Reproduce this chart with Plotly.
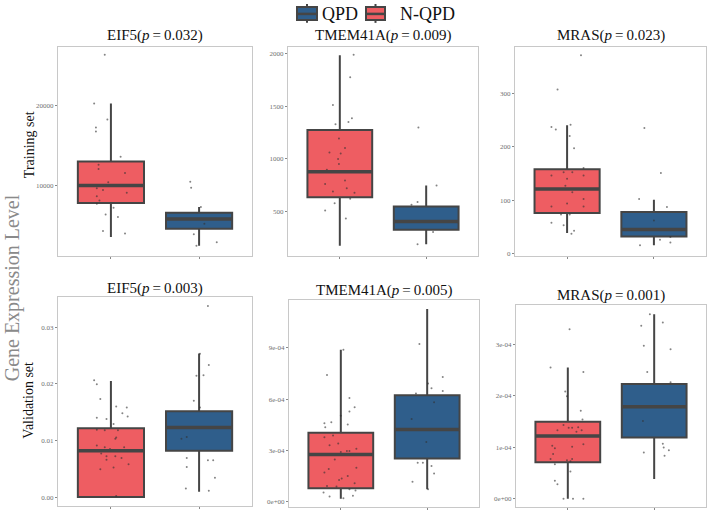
import plotly.graph_objects as go

# ---------------- data ----------------
GROUPS = ["N-QPD", "QPD"]           # x order in each panel
LEGEND_ORDER = ["QPD", "N-QPD"]
GENES = ["EIF5", "TMEM41A", "MRAS"]
P_TRAIN = ["0.032", "0.009", "0.023"]
P_VALID = ["0.003", "0.005", "0.001"]
ROW_LABELS = ["Training set", "Validation set"]
Y_LABEL = "Gene Expression Level"

# box stats: [lower whisker, q1, median, q3, upper whisker]
TRAIN_EIF5_NQPD = [3630, 7830, 10000, 13010, 20210]
TRAIN_EIF5_QPD = [2520, 4650, 5850, 6630, 7330]
TRAIN_TMEM_NQPD = [173, 636, 878, 1275, 1984]
TRAIN_TMEM_QPD = [188, 327, 405, 547, 746]
TRAIN_MRAS_NQPD = [38.5, 76, 121, 158, 240]
TRAIN_MRAS_QPD = [15.5, 32, 45, 78, 101]
VALID_EIF5_NQPD = [0.0, 0.0, 0.00818, 0.01216, 0.0205]
VALID_EIF5_QPD = [0.00093, 0.00818, 0.01228, 0.01514, 0.02532]
VALID_TMEM_NQPD = [1.6e-5, 7.7e-5, 2.75e-4, 4.02e-4, 8.9e-4]
VALID_TMEM_QPD = [7.1e-5, 2.51e-4, 4.22e-4, 6.23e-4, 1.128e-3]
VALID_MRAS_NQPD = [0.0, 7.07e-5, 1.22e-4, 1.497e-4, 2.55e-4]
VALID_MRAS_QPD = [3.85e-5, 1.19e-4, 1.786e-4, 2.23e-4, 3.58e-4]

# jittered sample points: values and horizontal jitter (category units)
TE_N_Y = [26260, 20210, 18200, 17210, 16720, 13580, 12590, 12060, 11570, 10420, 9470, 9680, 9100, 8690, 8150, 7740, 7250, 6420, 6100, 4370, 4040]
TE_N_J = [-0.07, -0.19, -0.04, -0.17, -0.17, 0.11, -0.14, -0.14, 0.16, -0.03, -0.09, -0.16, 0.18, -0.16, -0.13, -0.16, 0.03, -0.06, 0.08, -0.09, 0.16]
TE_Q_Y = [10490, 9720, 7330, 5270, 3950, 2520, 2960]
TE_Q_J = [-0.10, -0.09, 0.02, 0.06, -0.06, -0.03, 0.20]

TT_N_Y = [1990, 1776, 1511, 1386, 1351, 1329, 1194, 1102, 1061, 1052, 998, 951, 897, 793, 762, 721, 689, 677, 620, 579, 509, 434]
TT_N_J = [0.16, 0.12, -0.08, 0.14, 0.10, -0.05, -0.01, 0.06, -0.12, 0.01, -0.02, -0.01, -0.15, 0.06, -0.17, 0.08, -0.08, 0.17, 0.12, -0.06, -0.17, 0.07]
TT_Q_Y = [1298, 746, 589, 563, 305, 188]
TT_Q_J = [-0.09, 0.12, -0.10, -0.17, 0.08, -0.10]

TM_N_Y = [371, 307, 237, 232, 241, 220, 197, 152, 152, 160, 146, 146, 140, 127, 115, 102, 94, 88, 88, 73, 73, 58, 53, 43, 37]
TM_N_J = [0.16, -0.11, -0.18, -0.13, 0.04, 0.03, 0.08, -0.04, 0.06, 0.19, -0.18, 0.19, 0.0, -0.02, 0.06, 0.19, 0.0, -0.18, 0.19, -0.07, 0.03, -0.18, -0.04, 0.08, 0.05]
TM_Q_Y = [235, 151, 102, 87, 62, 31, 26, 15.5, 21]
TM_Q_J = [-0.11, 0.08, -0.17, 0.15, 0.0, 0.19, 0.07, -0.16, 0.19]

VE_N_Y = [0.0206, 0.0199, 0.0173, 0.0160, 0.0158, 0.0148, 0.0140, 0.0138, 0.0142, 0.0129, 0.0118, 0.0119, 0.0118, 0.0105, 0.0103, 0.0091, 0.0088, 0.0085, 0.0088, 0.0077, 0.0072, 0.0072, 0.0069, 0.0058, 0.0066, 0.0049, 0.0052, 0.0002]
VE_N_J = [-0.19, -0.16, -0.12, 0.06, 0.18, 0.13, -0.16, -0.05, 0.19, 0.03, 0.08, -0.16, -0.07, 0.06, 0.05, -0.16, -0.07, -0.01, 0.15, -0.11, -0.05, 0.05, 0.12, 0.20, -0.05, -0.12, 0.03, 0.06]
VE_Q_Y = [0.0337, 0.0253, 0.0233, 0.0214, 0.0215, 0.0170, 0.0158, 0.0103, 0.0106, 0.0069, 0.0065, 0.0065, 0.0053, 0.0034, 0.0015, 0.0011]
VE_Q_J = [0.10, 0.01, 0.11, -0.03, 0.05, -0.06, 0.01, -0.20, -0.14, -0.14, 0.10, 0.16, -0.14, 0.18, -0.15, 0.11]

VT_N_Y = [8.9e-4, 7.41e-4, 6.06e-4, 5.52e-4, 5.28e-4, 5.03e-4, 4.51e-4, 4.59e-4, 4.64e-4, 4.35e-4, 3.87e-4, 3.77e-4, 3.39e-4, 3.29e-4, 3.09e-4, 2.96e-4, 2.96e-4, 2.90e-4, 2.46e-4, 1.97e-4, 1.90e-4, 1.70e-4, 1.49e-4, 1.35e-4, 1.26e-4, 1.06e-4, 0.87e-4, 0.91e-4, 0.71e-4, 0.64e-4, 0.52e-4, 0.33e-4, 0.29e-4, 0.19e-4]
VT_N_J = [0.03, -0.16, 0.10, 0.16, 0.10, 0.0, 0.08, -0.19, -0.11, -0.18, -0.09, -0.19, -0.03, -0.13, 0.18, 0.10, 0.07, 0.0, -0.07, 0.18, -0.14, -0.19, 0.08, 0.01, -0.02, 0.16, -0.05, -0.16, 0.10, 0.17, -0.20, 0.14, -0.13, 0.03]
VT_Q_Y = [9.23e-4, 7.30e-4, 6.91e-4, 6.64e-4, 6.48e-4, 6.33e-4, 5.81e-4, 4.84e-4, 4.20e-4, 3.48e-4, 2.26e-4, 2.26e-4, 2.07e-4, 1.64e-4, 1.16e-4, 0.71e-4]
VT_Q_J = [-0.09, 0.18, 0.01, 0.05, 0.18, -0.13, 0.08, -0.18, -0.13, -0.01, -0.11, -0.05, 0.05, 0.08, -0.17, 0.01]

VM_N_Y = [3.29e-4, 2.55e-4, 2.46e-4, 2.08e-4, 1.99e-4, 1.71e-4, 1.54e-4, 1.43e-4, 1.38e-4, 1.38e-4, 1.39e-4, 1.33e-4, 1.30e-4, 1.33e-4, 1.06e-4, 1.01e-4, 1.03e-4, 0.98e-4, 0.87e-4, 0.77e-4, 0.75e-4, 0.73e-4, 0.77e-4, 0.67e-4, 0.53e-4, 0.35e-4, 0.28e-4, 0.0, 0.0, 0.0]
VM_N_J = [0.02, -0.20, 0.18, -0.03, -0.01, 0.15, 0.17, -0.05, 0.01, 0.05, 0.12, 0.16, 0.10, -0.12, 0.18, 0.05, -0.18, -0.15, -0.17, -0.20, -0.01, 0.03, 0.05, -0.15, 0.03, -0.15, -0.12, -0.05, 0.06, 0.18]
VM_Q_Y = [3.58e-4, 3.42e-4, 3.36e-4, 2.97e-4, 2.90e-4, 2.46e-4, 2.26e-4, 1.51e-4, 1.07e-4, 0.996e-4, 0.944e-4, 0.90e-4, 0.836e-4]
VM_Q_J = [-0.05, 0.10, -0.15, -0.12, 0.19, -0.08, 0.19, -0.13, 0.10, 0.11, 0.17, -0.12, 0.12]

# y tick values / labels per panel
TICKS_TE = [10000, 20000]
TICKS_TT = [500, 1000, 1500, 2000]
TICKS_TM = [0, 100, 200, 300]
TICKS_VE = [0.0, 0.01, 0.02, 0.03]
TICKS_VT = [0.0, 3e-4, 6e-4, 9e-4]
TICKS_VM = [0.0, 1e-4, 2e-4, 3e-4]
LABELS_TE = ["10000", "20000"]
LABELS_TT = ["500", "1000", "1500", "2000"]
LABELS_TM = ["0", "100", "200", "300"]
LABELS_VE = ["0.00", "0.01", "0.02", "0.03"]
LABELS_VT = ["0e+00", "3e-04", "6e-04", "9e-04"]
LABELS_VM = ["0e+00", "1e-04", "2e-04", "3e-04"]

# ---------------- style / layout ----------------
W, H = 709, 515
COLORS = {"N-QPD": "#EE5D62", "QPD": "#2F5E8B"}
EDGE = "#454545"
SERIF = "Liberation Serif, Times New Roman, serif"
TS = "\u2009"  # thin space around '='
BOX_W = 0.75


def title(gene, pv):
    return f"{gene}(<i>p</i>{TS}={TS}{pv})"


panels = [
    dict(stats=(TRAIN_EIF5_NQPD, TRAIN_EIF5_QPD), pts=((TE_N_Y, TE_N_J), (TE_Q_Y, TE_Q_J)),
         ticks=(TICKS_TE, LABELS_TE), yr=[1320, 27250], px=(58, 252), py=(47, 257),
         title=title(GENES[0], P_TRAIN[0]), ty=36),
    dict(stats=(TRAIN_TMEM_NQPD, TRAIN_TMEM_QPD), pts=((TT_N_Y, TT_N_J), (TT_Q_Y, TT_Q_J)),
         ticks=(TICKS_TT, LABELS_TT), yr=[81, 2066], px=(288, 478), py=(47, 257),
         title=title(GENES[1], P_TRAIN[1]), ty=36),
    dict(stats=(TRAIN_MRAS_NQPD, TRAIN_MRAS_QPD), pts=((TM_N_Y, TM_N_J), (TM_Q_Y, TM_Q_J)),
         ticks=(TICKS_TM, LABELS_TM), yr=[-3.5, 387], px=(515, 706), py=(47, 257),
         title=title(GENES[2], P_TRAIN[2]), ty=36),
    dict(stats=(VALID_EIF5_NQPD, VALID_EIF5_QPD), pts=((VE_N_Y, VE_N_J), (VE_Q_Y, VE_Q_J)),
         ticks=(TICKS_VE, LABELS_VE), yr=[-0.00158, 0.03526], px=(58, 252), py=(299, 509),
         title=title(GENES[0], P_VALID[0]), ty=290),
    dict(stats=(VALID_TMEM_NQPD, VALID_TMEM_QPD), pts=((VT_N_Y, VT_N_J), (VT_Q_Y, VT_Q_J)),
         ticks=(TICKS_VT, LABELS_VT), yr=[-3.3e-5, 1.18e-3], px=(289, 479), py=(302, 510),
         title=title(GENES[1], P_VALID[1]), ty=292),
    dict(stats=(VALID_MRAS_NQPD, VALID_MRAS_QPD), pts=((VM_N_Y, VM_N_J), (VM_Q_Y, VM_Q_J)),
         ticks=(TICKS_VM, LABELS_VM), yr=[-1.6e-5, 3.757e-4], px=(516, 706), py=(307, 510),
         title=title(GENES[2], P_VALID[2]), ty=297),
]

fig = go.Figure()
annotations = []
shapes = []

for i, p in enumerate(panels):
    n = "" if i == 0 else str(i + 1)
    xa, ya = "x" + n, "y" + n
    for gi, g in enumerate(GROUPS):
        lo, q1, med, q3, hi = p["stats"][gi]
        fig.add_trace(go.Box(
            x=[gi + 1], q1=[q1], median=[med], q3=[q3], lowerfence=[lo], upperfence=[hi],
            width=BOX_W, whiskerwidth=0, boxpoints=False,
            fillcolor=COLORS[g], line=dict(color=EDGE, width=2),
            name=g, showlegend=False,
            xaxis=xa, yaxis=ya, hoverinfo="skip"))
        # thicker median bar, as in ggplot
        shapes.append(dict(type="line", xref=xa, yref=ya,
                           x0=gi + 1 - BOX_W / 2, x1=gi + 1 + BOX_W / 2, y0=med, y1=med,
                           line=dict(color=EDGE, width=3.5)))
    for gi, g in enumerate(GROUPS):
        ys, js = p["pts"][gi]
        fig.add_trace(go.Scatter(
            x=[gi + 1 + j for j in js], y=ys, mode="markers",
            marker=dict(size=2, color="rgba(50,50,50,0.6)"),
            showlegend=False, xaxis=xa, yaxis=ya, hoverinfo="skip"))

    x0, x1 = p["px"]
    y0, y1 = p["py"]
    axis_common = dict(showline=True, mirror=True, linecolor="#c8c8c8", linewidth=1,
                       showgrid=False, zeroline=False, ticks="outside", ticklen=2,
                       tickcolor="#888", tickwidth=1)
    fig.layout["xaxis" + n] = dict(domain=[x0 / W, x1 / W], range=[0.4, 2.6],
                                   anchor=ya, tickvals=[1, 2], showticklabels=False,
                                   fixedrange=True, **axis_common)
    fig.layout["yaxis" + n] = dict(domain=[1 - y1 / H, 1 - y0 / H], range=p["yr"],
                                   anchor=xa, tickvals=p["ticks"][0], ticktext=p["ticks"][1],
                                   tickfont=dict(family=SERIF, size=7, color="#707070"),
                                   fixedrange=True, **axis_common)
    annotations.append(dict(text=p["title"], x=(x0 + x1) / 2 / W, y=1 - p["ty"] / H,
                            xref="paper", yref="paper", xanchor="center", yanchor="middle",
                            showarrow=False, font=dict(family=SERIF, size=15, color="#111")))

# ---- legend (drawn as boxplot glyphs at the top) ----
LEG_X = {"QPD": (297, 317, 320), "N-QPD": (366, 385, 398)}  # icon left, icon right, text left (px)
LEG_Y = (7, 20, 14)   # box top, box bottom, centre (px)
for g in LEGEND_ORDER:
    l, r, tx = LEG_X[g]
    bt, bb, cy = LEG_Y
    cx = (l + r) / 2
    shapes.append(dict(type="line", xref="paper", yref="paper", x0=cx / W, x1=cx / W,
                       y0=1 - (bt - 3) / H, y1=1 - (bb + 3) / H, line=dict(color=EDGE, width=2)))
    shapes.append(dict(type="rect", xref="paper", yref="paper", x0=l / W, x1=r / W,
                       y0=1 - bb / H, y1=1 - bt / H, fillcolor=COLORS[g],
                       line=dict(color=EDGE, width=2)))
    shapes.append(dict(type="line", xref="paper", yref="paper", x0=l / W, x1=r / W,
                       y0=1 - cy / H, y1=1 - cy / H, line=dict(color=EDGE, width=2.5)))
    annotations.append(dict(text=g, x=tx / W, y=1 - cy / H, xref="paper", yref="paper",
                            xanchor="left", yanchor="middle", showarrow=False,
                            font=dict(family=SERIF, size=18, color="#111")))

annotations.append(dict(text=Y_LABEL, x=12 / W, y=1 - 290 / H, xref="paper", yref="paper",
                        textangle=-90, showarrow=False, xanchor="center", yanchor="middle",
                        font=dict(family=SERIF, size=20, color="#8a8a8a")))
annotations.append(dict(text=ROW_LABELS[0], x=29 / W, y=1 - 146 / H, xref="paper", yref="paper",
                        textangle=-90, showarrow=False, xanchor="center", yanchor="middle",
                        font=dict(family=SERIF, size=14, color="#111")))
annotations.append(dict(text=ROW_LABELS[1], x=29 / W, y=1 - 403 / H, xref="paper", yref="paper",
                        textangle=-90, showarrow=False, xanchor="center", yanchor="middle",
                        font=dict(family=SERIF, size=14, color="#111")))

fig.update_layout(
    width=W, height=H, margin=dict(l=0, r=0, t=0, b=0),
    paper_bgcolor="white", plot_bgcolor="white",
    boxmode="overlay",
    showlegend=False,
    annotations=annotations,
    shapes=shapes,
)

fig.write_html("out.html")
